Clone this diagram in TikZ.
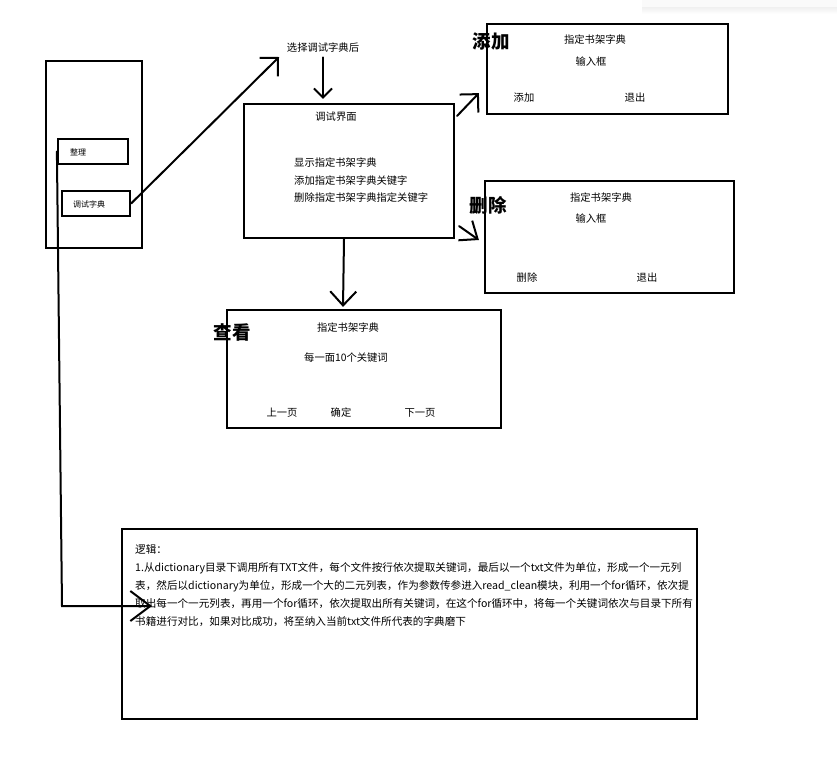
\documentclass[tikz,border=0pt]{standalone}
\usepackage{fontspec}
\setmainfont{Noto Sans CJK SC}
\usetikzlibrary{arrows.meta}
\begin{document}
\begin{tikzpicture}[x=1pt,y=-1pt,
  box/.style={draw, line width=2.2pt, inner sep=0pt},
  lbl/.style={font=\fontsize{10.3}{12}\selectfont, inner sep=0pt},
  small/.style={font=\fontsize{8}{10}\selectfont, inner sep=0pt},
  tag/.style={font=\fontsize{18.5}{22}\selectfont\bfseries, inner sep=0pt},
  link/.style={line width=2pt, line cap=round}
]
\useasboundingbox (0,0) rectangle (837,758);

% faint bar at the top right edge
\fill[gray!4] (642,0) rectangle (837,7);
\shade[top color=gray!12, bottom color=white] (642,7) rectangle (837,14);

% left menu panel
\node[box, minimum width=96pt, minimum height=187pt] (panel) at (94,154.5) {};
\node[box, minimum width=70pt, minimum height=25pt] (zhengli) at (93,151.5) {};
\node[box, minimum width=68pt, minimum height=25pt] (tiaoshi) at (96,203.5) {};
\node[small, anchor=west] (zhengliText) at (70,152) {整理};
\node[small, anchor=west] (tiaoshiText) at (73,204) {调试字典};

% caption above the debug window
\node[lbl] (sel) at (323,48) {选择调试字典后};

% debug window
\node[box, minimum width=210pt, minimum height=134pt] (main) at (349,171) {};
\node[lbl] (mainTitle) at (336,117) {调试界面};
\node[lbl, anchor=west] (opShow) at (294,163) {显示指定书架字典};
\node[lbl, anchor=west] (opAdd) at (294,181) {添加指定书架字典关键字};
\node[lbl, anchor=west] (opDel) at (294,198) {删除指定书架字典指定关键字};

% add window
\node[box, minimum width=241pt, minimum height=90pt] (add) at (607.5,69) {};
\node[lbl] (addDict) at (595,40) {指定书架字典};
\node[lbl] (addInput) at (591,62) {输入框};
\node[lbl] (addOk) at (524,98) {添加};
\node[lbl] (addQuit) at (635,98) {退出};
\node[tag] (addTag) at (491,42) {添加};

% delete window
\node[box, minimum width=249pt, minimum height=112pt] (del) at (609.5,237) {};
\node[lbl] (delDict) at (601,198) {指定书架字典};
\node[lbl] (delInput) at (591,219) {输入框};
\node[lbl] (delOk) at (527,278) {删除};
\node[lbl] (delQuit) at (647,278) {退出};
\node[tag] (delTag) at (488,205) {删除};

% view window
\node[box, minimum width=274pt, minimum height=118pt] (view) at (364,369) {};
\node[lbl] (viewDict) at (348,328) {指定书架字典};
\node[lbl] (viewPage) at (346,358) {每一面10个关键词};
\node[lbl] (viewPrev) at (282,413) {上一页};
\node[lbl] (viewOk) at (341,413) {确定};
\node[lbl] (viewNext) at (420,413) {下一页};
\node[tag] (viewTag) at (232,332) {查看};

% logic notes
\node[box, minimum width=575pt, minimum height=190pt] (logic) at (409.5,624) {};
\node[inner sep=0pt, anchor=north west, align=left,
      font=\fontsize{10.6}{18}\selectfont] (logicText) at (135,544)
  {逻辑：\\
   1.从dictionary目录下调用所有TXT文件，每个文件按行依次提取关键词，最后以一个txt文件为单位，形成一个一元列\\
   表，然后以dictionary为单位，形成一个大的二元列表，作为参数传参进入read\_clean模块，利用一个for循环，依次提\\
   取出每一个一元列表，再用一个for循环，依次提取出所有关键词，在这个for循环中，将每一个关键词依次与目录下所有\\
   书籍进行对比，如果对比成功，将至纳入当前txt文件所代表的字典磨下};

% connectors
\coordinate (selin) at (279,57);
\coordinate (bend) at (62,606);
\coordinate (logicin) at (152,606);

\draw[link, -{Straight Barb[length=13pt,width=26pt]}] (tiaoshi.east) -- (selin);
\draw[link, -{Straight Barb[length=9pt,width=18pt]}]
  ([yshift=-4.5pt]sel.south) -- ([yshift=4pt]sel.south |- main.north);
\draw[link, -{Straight Barb[length=14pt,width=26pt]}]
  ([xshift=-5pt]main.south) -- ([xshift=-21pt,yshift=2pt]view.north);
\draw[link, -{Straight Barb[length=13pt,width=26pt]}]
  ([xshift=2pt,yshift=-13pt]main.north east) -- ([xshift=-7pt,yshift=22pt]add.south west);
\draw[link, -{Straight Barb[length=15pt,width=24pt]}]
  ([xshift=4pt,yshift=13pt]main.south east) -- ([xshift=-5pt,yshift=-3pt]del.west);
\draw[link, -{Straight Barb[length=20pt,width=30pt]}]
  (zhengli.west) -- (bend) -- (logicin);
\end{tikzpicture}
\end{document}
